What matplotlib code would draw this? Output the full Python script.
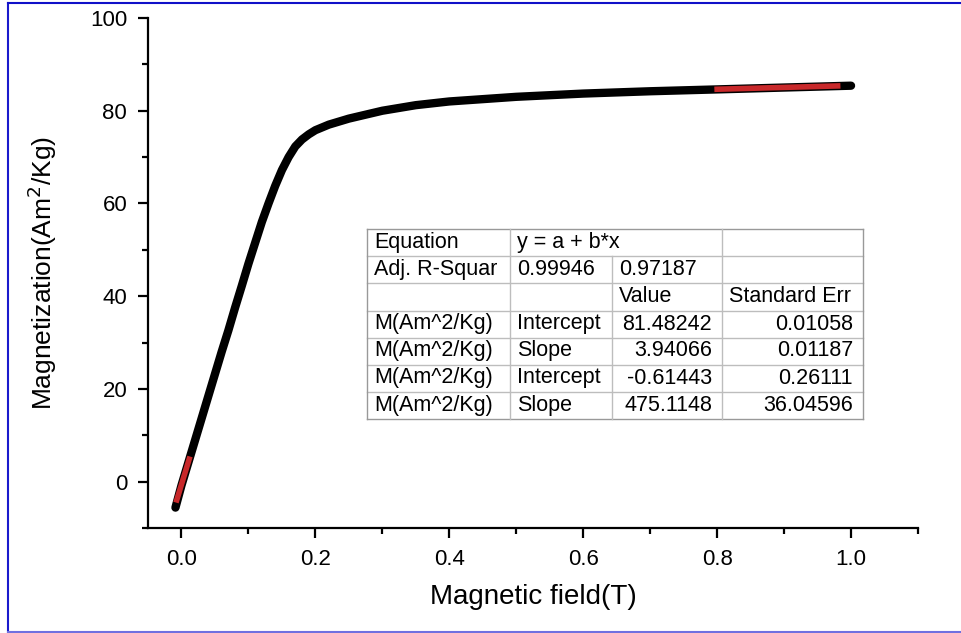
import matplotlib.pyplot as plt
from matplotlib.lines import Line2D
from matplotlib.ticker import MultipleLocator

plt.rcParams['font.family'] = ['Liberation Sans', 'DejaVu Sans']

# magnetization curve
field_T = [-0.009, 0.0, 0.01, 0.02, 0.03, 0.04, 0.05, 0.06, 0.07, 0.08, 0.09,
           0.10, 0.11, 0.12, 0.13, 0.14, 0.15, 0.16, 0.17, 0.18, 0.19, 0.20,
           0.22, 0.25, 0.30, 0.35, 0.40, 0.45, 0.50, 0.60, 0.70, 0.80, 0.90, 1.00]
magnetization = [-5.6, -0.8, 4.0, 8.8, 13.6, 18.4, 23.2, 28.0, 32.6, 37.5, 42.2,
                 47.0, 51.5, 56.0, 60.0, 63.8, 67.2, 70.0, 72.3, 73.8, 74.9, 75.8,
                 77.0, 78.3, 80.0, 81.2, 82.0, 82.5, 83.0, 83.7, 84.2, 84.6, 85.0, 85.4]

# linear fits (intercept, slope) and the field range they were drawn over
fit_high = (81.48242, 3.94066)
fit_high_x = [0.80, 0.98]
fit_low = (-0.61443, 475.1148)
fit_low_x = [-0.007, 0.0115]

table_rows = [
    ["Equation", "y = a + b*x", "", ""],
    ["Adj. R-Squar", "0.99946", "0.97187", ""],
    ["", "", "Value", "Standard Err"],
    ["M(Am^2/Kg)", "Intercept", "81.48242", "0.01058"],
    ["M(Am^2/Kg)", "Slope", "3.94066", "0.01187"],
    ["M(Am^2/Kg)", "Intercept", "-0.61443", "0.26111"],
    ["M(Am^2/Kg)", "Slope", "475.1148", "36.04596"],
]

W, H = 961, 633
fig = plt.figure(figsize=(W / 100, H / 100), dpi=100)
ax = fig.add_axes([148 / W, 1 - 528 / H, (918 - 148) / W, (528 - 18) / H])

ax.plot(field_T, magnetization, color='black', lw=6, solid_capstyle='round',
        solid_joinstyle='round', zorder=2)
for (a, b), xs in [(fit_high, fit_high_x), (fit_low, fit_low_x)]:
    ax.plot(xs, [a + b * x for x in xs], color='#c8282a', lw=4, zorder=3)

ax.set_xlim(-0.05, 1.1)
ax.set_ylim(-10, 100)
ax.xaxis.set_minor_locator(MultipleLocator(0.1))
ax.yaxis.set_minor_locator(MultipleLocator(10))
ax.set_xticks([0, 0.2, 0.4, 0.6, 0.8, 1.0])
ax.set_xticklabels(['0.0', '0.2', '0.4', '0.6', '0.8', '1.0'])
ax.set_yticks([0, 20, 40, 60, 80, 100])
for s in ['top', 'right']:
    ax.spines[s].set_visible(False)
for s in ['left', 'bottom']:
    ax.spines[s].set_linewidth(1.6)
ax.tick_params(which='major', length=7, width=1.6, labelsize=16, colors='black', pad=8)
ax.tick_params(which='minor', length=4, width=1.6)
ax.set_xlabel('Magnetic field(T)', fontsize=20, labelpad=10)
ax.set_ylabel('Magnetization(Am$^2$/Kg)', fontsize=19, labelpad=22)

# fit results table, drawn in pixel positions
def fx(px):
    return px / W


def fy(py):
    return 1 - py / H


col_x = [367, 510, 612, 722, 863]
row_y = [229, 256, 283, 310.5, 337.5, 364.5, 391.5, 419]
grid = '#bdbdbd'
for i, y in enumerate(row_y):
    c = '#999999' if i in (0, len(row_y) - 1) else grid
    fig.add_artist(Line2D([fx(col_x[0]), fx(col_x[-1])], [fy(y), fy(y)], color=c, lw=1))
for j, x in enumerate(col_x):
    c = '#999999' if j in (0, len(col_x) - 1) else grid
    top = row_y[1] if j == 2 else row_y[0]
    fig.add_artist(Line2D([fx(x), fx(x)], [fy(top), fy(row_y[-1])], color=c, lw=1))

for r, row in enumerate(table_rows):
    yc = fy((row_y[r] + row_y[r + 1]) / 2)
    for c, txt in enumerate(row):
        if not txt:
            continue
        numeric = txt.replace('.', '').replace('-', '').isdigit()
        if c >= 2 and numeric and r >= 3:
            fig.text(fx(col_x[c + 1] - 10), yc, txt, ha='right', va='center', fontsize=15.5)
        else:
            fig.text(fx(col_x[c] + 7), yc, txt, ha='left', va='center', fontsize=15.5)

# blue frame around the picture
fig.add_artist(Line2D([fx(8), fx(8)], [fy(3), fy(632)], color='#1a1acc', lw=1.5))
fig.add_artist(Line2D([fx(8), fx(961)], [fy(3), fy(3)], color='#1010c8', lw=1.5))
fig.add_artist(Line2D([fx(8), fx(961)], [fy(631.5), fy(631.5)], color='#7070e0', lw=1.5))

fig.savefig('out.png', dpi=100)
